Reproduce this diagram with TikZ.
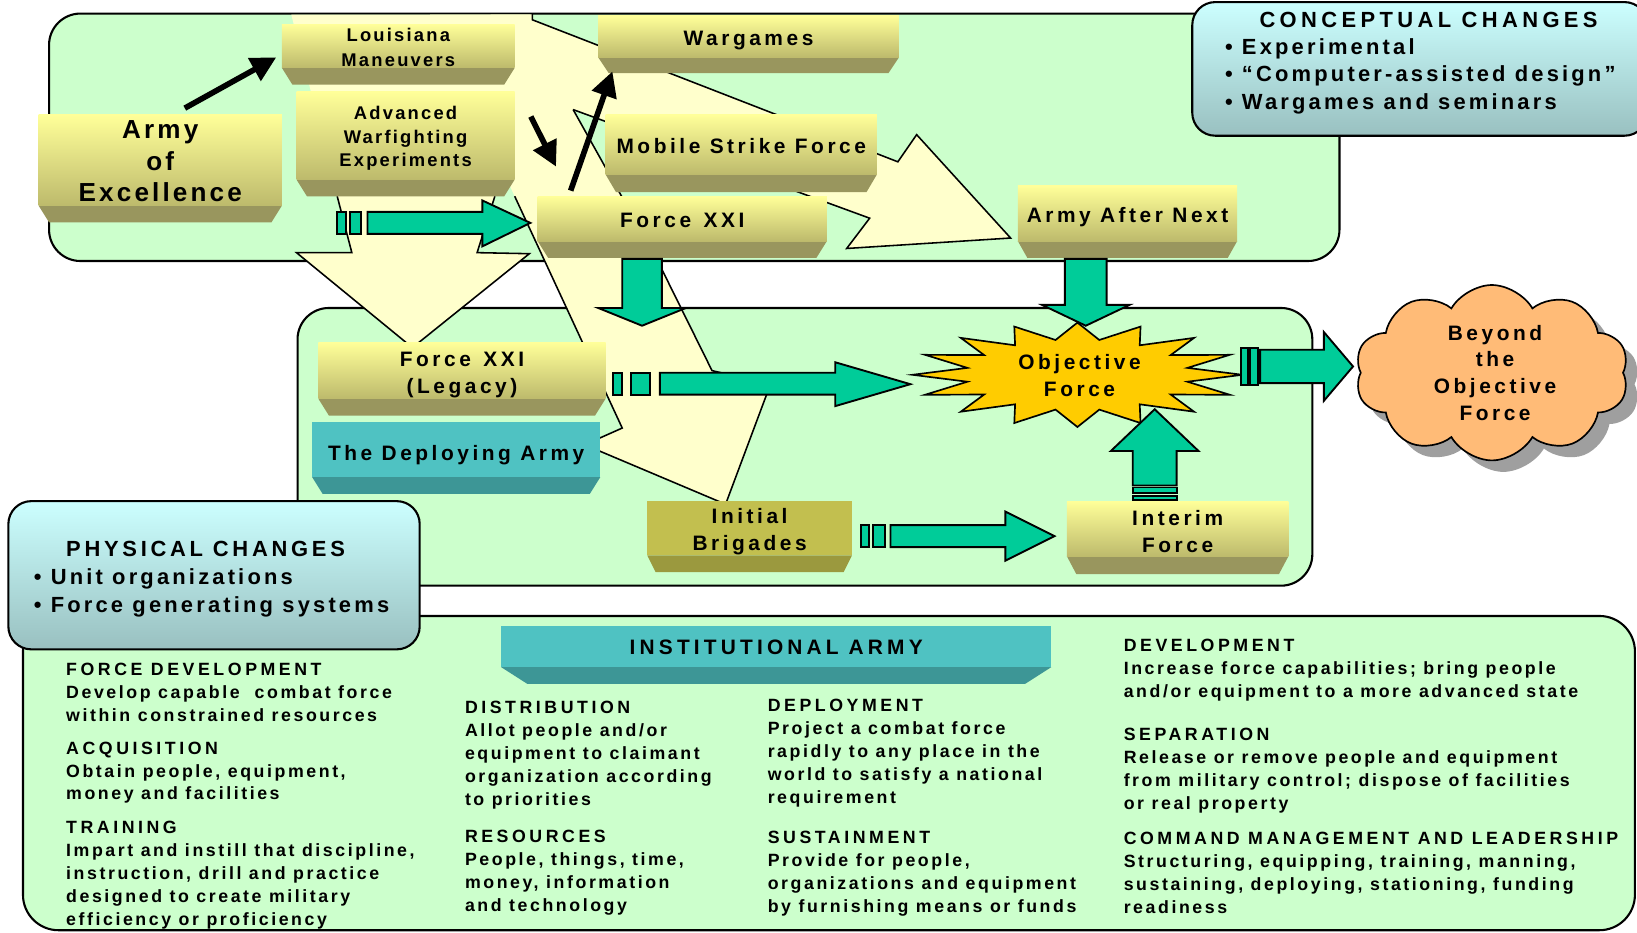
\documentclass[tikz,border=0pt]{standalone}
\usepackage{fontspec}
\setmainfont{Liberation Sans}[LetterSpace=17]
\newfontfamily\tightfont{Liberation Sans}[LetterSpace=12]
\newfontfamily\bodyfont{Liberation Sans}[LetterSpace=14.5]
\newfontfamily\headfont{Liberation Sans}[LetterSpace=20]
\newfontfamily\physfont{Liberation Sans}[LetterSpace=17]
\newcommand{\hd}[1]{{\headfont #1}}
\usetikzlibrary{shapes.geometric,shapes.symbols,arrows.meta,calc}
\definecolor{grn}{HTML}{CCFFCC}
\definecolor{pale}{HTML}{FFFFCC}
\definecolor{tealc}{HTML}{00CC99}
\definecolor{ytop}{HTML}{FFFF99}
\definecolor{ybot}{HTML}{BDBA6C}
\definecolor{ybev}{HTML}{99965E}
\definecolor{dtop}{HTML}{4FC2C2}
\definecolor{dbev}{HTML}{3D9696}
\definecolor{olv}{HTML}{C2BF4F}
\definecolor{olvbev}{HTML}{9B993E}
\definecolor{starc}{HTML}{FFCC00}
\definecolor{cloudc}{HTML}{FFBB77}
\definecolor{ctop}{HTML}{CCFFFF}
\definecolor{cbot}{HTML}{99C0C0}
\tikzset{
  greenbox/.style={fill=grn,draw=black,line width=1pt,rounded corners=15pt},
  changebox/.style={top color=ctop,bottom color=cbot,draw=black,line width=1pt,rounded corners=11pt},
  palefill/.style={fill=pale},
  paleline/.style={draw=black,line width=0.75pt,line join=miter},
  plaintext/.style={inner sep=0pt,align=center,font=\bfseries\fontsize{10}{12.8}\selectfont},
  facebase/.style={inner sep=0pt},
  yface/.style={facebase,top color=ytop,bottom color=ybot},
  tface/.style={facebase,fill=dtop},
  oface/.style={facebase,fill=olv},
  ybevel/.style={fill=ybev},
  tbevel/.style={fill=dbev},
  obevel/.style={fill=olvbev},
  tealarrow/.style={fill=tealc,draw=black,line width=0.9pt,line join=miter},
  blkarrow/.style={line width=2.7pt,-{Triangle[length=12pt,width=12pt]}},
  bodytext/.style={inner sep=0pt,align=left,anchor=north west,font=\bodyfont\bfseries\fontsize{8.5}{11}\selectfont},
  chtext/.style={inner sep=0pt,align=left,anchor=north west,font=\bodyfont\bfseries\fontsize{10.5}{13.1}\selectfont},
  cloudshape/.style={cloud,cloud puffs=10,cloud puff arc=120,cloud ignores aspect,minimum width=131pt,minimum height=84pt},
}
\newcommand{\bev}[6]{\fill[#6] (#1,#3) -- (#2,#3) -- ({#2-#5},#4) -- ({#1+#5},#4) -- cycle;}
\begin{document}
\begin{tikzpicture}[x=0.5pt,y=-0.5pt]
\useasboundingbox (0,0) rectangle (1568,893);
% green panels
\draw[greenbox] (47,13) rectangle (1283,250);
\draw[greenbox] (285,295) rectangle (1257,561);
\draw[greenbox,rounded corners=17pt] (22,590) rectangle (1566,891);
% pale arrows
\fill[palefill] (279,14) -- (510,14) -- (474,188) -- (457,242) -- (507,243) -- (395,333) -- (284,242) -- (337,242) -- cycle;
\fill[palefill] (412,14) -- (508,14) -- (549,105) -- (630,250) -- (682,355) -- (738,368) -- (695,483) -- (560,426) -- (596,410) -- (493,188) -- cycle;
\fill[palefill] (470,14) -- (510,14) -- (510,19) -- (860,155) -- (878,129) -- (968,228) -- (811,238) -- (833,209) -- (549,105) -- (470,80) -- cycle;
\draw[paleline] (323,188) -- (337,242) -- (284,242) -- (395,333) -- (507,243) -- (457,242) -- (474,188);
\draw[paleline] (493,188) -- (596,410) -- (560,426) -- (695,483) -- (738,368) -- (682,355) -- (630,250) -- (549,105);
\draw[paleline] (510,13) -- (510,19) -- (860,155) -- (878,129) -- (968,228) -- (811,238) -- (833,209) -- (549,105);
% boxes
\bev{37}{270}{197}{213}{10}{ybevel}
\node[yface,minimum width=116.5pt,minimum height=43.5pt] (aoe) at (153.5,153.5) {};
\node[plaintext,font=\tightfont\bfseries\fontsize{12.5}{15}\selectfont] (aoeT) at ($(aoe)+(0,1)$) {Army\\of\\Excellence};
\bev{270}{493}{65}{81}{10}{ybevel}
\node[yface,minimum width=111.5pt,minimum height=21pt] (louis) at (381.5,44) {};
\node[plaintext,font=\tightfont\bfseries\fontsize{8.8}{11.8}\selectfont] (louisT) at ($(louis)+(0,1.5)$) {Louisiana\\Maneuvers};
\bev{284}{493}{172}{188}{10}{ybevel}
\node[yface,minimum width=104.5pt,minimum height=42pt] (awe) at (388.5,130) {};
\node[plaintext,font=\tightfont\bfseries\fontsize{8.8}{11.3}\selectfont] (aweT) at ($(awe)+(0,2.5)$) {Advanced\\Warfighting\\Experiments};
\bev{573}{861}{55}{70}{10}{ybevel}
\node[yface,minimum width=144pt,minimum height=20pt] (wargames) at (717,35) {};
\node[plaintext] (wargamesT) at ($(wargames)+(0,4)$) {Wargames};
\bev{580}{840}{167}{184}{10}{ybevel}
\node[yface,minimum width=130pt,minimum height=28.5pt] (msf) at (710,138.5) {};
\node[plaintext] (msfT) at ($(msf)+(0,1)$) {Mobile Strike Force};
\bev{515}{792}{231}{247}{10}{ybevel}
\node[yface,minimum width=138.5pt,minimum height=21.5pt] (fxxi) at (653.5,209.5) {};
\node[plaintext] (fxxiT) at ($(fxxi)+(0,2)$) {Force\hspace{6pt}XXI};
\bev{975}{1185}{231}{247}{9}{ybevel}
\node[yface,minimum width=105pt,minimum height=26.5pt] (aan) at (1080,204.5) {};
\node[plaintext] (aanT) at ($(aan)+(0,3)$) {Army After Next};
\bev{305}{580}{382}{398}{10}{ybevel}
\node[yface,minimum width=137.5pt,minimum height=27pt] (legacy) at (442.5,355) {};
\node[plaintext] (legacyT) at ($(legacy)+(0,4)$) {Force\hspace{6pt}XXI\\(Legacy)};
\bev{299}{575}{457}{473}{10}{tbevel}
\node[tface,minimum width=138pt,minimum height=26.5pt] (deploy) at (437,430.5) {};
\node[plaintext] (deployT) at ($(deploy)+(0,5)$) {The Deploying Army};
\bev{620}{816}{532}{548}{8}{obevel}
\node[oface,minimum width=98pt,minimum height=26pt] (initial) at (718,506) {};
\node[plaintext] (initialT) at ($(initial)+(0,3.5)$) {Initial\\Brigades};
\bev{1022}{1234}{533}{550}{9}{ybevel}
\node[yface,minimum width=106pt,minimum height=26.5pt] (interim) at (1128,506.5) {};
\node[plaintext] (interimT) at ($(interim)+(0,2.5)$) {Interim\\Force};
% black arrows
\draw[blkarrow] ($(aoe.north)+(23.5,-6)$) -- ($(louis.west)+(-5,11)$);
\draw[blkarrow] ($(awe.north east)+(15,24)$) -- ($(fxxi.north west)+(18,-28)$);
\draw[blkarrow] ($(fxxi.north west)+(32,-5)$) -- ($(wargames.south west)+(14,13)$);
% objective star
\draw[fill=starc,line width=0.8pt,line join=miter] (1190,359) \foreach \i in {1,...,31} { -- ({1032+158*(1-0.32*mod(\i,2))*cos(\i*11.25)},{359+50*(1-0.32*mod(\i,2))*sin(\i*11.25)}) } -- cycle;
\node[plaintext] (objf) at (1034,360) {Objective\\Force};
% cloud
\node[cloudshape,fill=gray!75,draw=none] (cloudsh) at (1440,368) {};
\node[cloudshape,fill=cloudc,draw=black,line width=0.8pt] (cloudf) at (1429,357) {};
\node[plaintext] (beyond) at (1432,357) {Beyond\\the\\Objective\\Force};
% teal arrows
\draw[tealarrow] (323,203) rectangle (331,224);
\draw[tealarrow] (335,203) rectangle (346,224);
\draw[tealarrow] (352,203) -- (462,203) -- (462,192) -- (508,213.5) -- (462,236) -- (462,224) -- (352,224) -- cycle;
\draw[tealarrow] (596,248) -- (634,248) -- (634,295) -- (657,295) -- (615,312) -- (573,295) -- (596,295) -- cycle;
\draw[tealarrow] (587,357) rectangle (596,378);
\draw[tealarrow] (604,357) rectangle (623,378);
\draw[tealarrow] (632,357) -- (800,357) -- (800,347) -- (872,368) -- (800,389) -- (800,378) -- (632,378) -- cycle;
\draw[tealarrow] (1020,248) -- (1060,248) -- (1060,292) -- (1082,292) -- (1040,312) -- (998,292) -- (1020,292) -- cycle;
\draw[tealarrow] (1085,465) -- (1085,432) -- (1064,432) -- (1106,392) -- (1148,432) -- (1127,432) -- (1127,465) -- cycle;
\draw[tealarrow] (1085,467) rectangle (1127,472);
\draw[tealarrow] (1085,475) rectangle (1127,479);
\draw[tealarrow] (1189,333) rectangle (1195,369);
\draw[tealarrow] (1197,333) rectangle (1205,369);
\draw[tealarrow] (1207,335) -- (1268,335) -- (1268,318) -- (1296,351) -- (1268,384) -- (1268,367) -- (1207,367) -- cycle;
\draw[tealarrow] (825,503) rectangle (832,524);
\draw[tealarrow] (836,503) rectangle (848,524);
\draw[tealarrow] (853,503) -- (963,503) -- (963,490) -- (1010,513.5) -- (963,537) -- (963,524) -- (853,524) -- cycle;
% change boxes
\draw[changebox] (1142,2) rectangle (1578,130);
\node[chtext] (concept) at (1173,11) {\hspace*{16.5pt}\hd{CONCEPTUAL CHANGES}\\\textbullet\ Experimental\\\textbullet\ “Computer-assisted design”\\\textbullet\ Wargames and seminars};
\draw[changebox] (8,480) rectangle (402,622);
\node[chtext,font=\bodyfont\bfseries\fontsize{10.5}{13.4}\selectfont] (physical) at (32,518) {\hspace*{15.5pt}{\physfont PHYSICAL CHANGES}\\\textbullet\ Unit organizations\\\textbullet\ Force generating systems};
% institutional
\bev{480}{1007}{639}{655}{25}{tbevel}
\node[tface,minimum width=263.5pt,minimum height=19.5pt] (inst) at (743.5,619.5) {};
\node[plaintext,font=\headfont\bfseries\fontsize{10}{12}\selectfont] (instT) at ($(inst)+(0,1)$) {INSTITUTIONAL ARMY};
\node[bodytext] (col1) at (63,635) {\hd{FORCE DEVELOPMENT}\\Develop capable\ \ combat force\\within constrained resources\\[4.5pt]\hd{ACQUISITION}\\Obtain people, equipment,\\money and facilities\\[5pt]\hd{TRAINING}\\Impart and instill that discipline,\\instruction, drill and practice\\designed to create military\\efficiency or proficiency};
\node[bodytext] (col2) at (445,671) {\hd{DISTRIBUTION}\\Allot people and/or\\equipment to claimant\\organization according\\to priorities\\[7pt]\hd{RESOURCES}\\People, things, time,\\money, information\\and technology};
\node[bodytext] (col3) at (735,669) {\hd{DEPLOYMENT}\\Project a combat force\\rapidly to any place in the\\world to satisfy a national\\requirement\\[8.5pt]\hd{SUSTAINMENT}\\Provide for people,\\organizations and equipment\\by furnishing means or funds};
\node[bodytext] (col4) at (1076,612) {\hd{DEVELOPMENT}\\Increase force capabilities; bring people\\and/or equipment to a more advanced state\\[9.5pt]\hd{SEPARATION}\\Release or remove people and equipment\\from military control; dispose of facilities\\or real property\\[6pt]\hd{COMMAND MANAGEMENT AND LEADERSHIP}\\Structuring, equipping, training, manning,\\sustaining, deploying, stationing, funding\\readiness};
\end{tikzpicture}
\end{document}
